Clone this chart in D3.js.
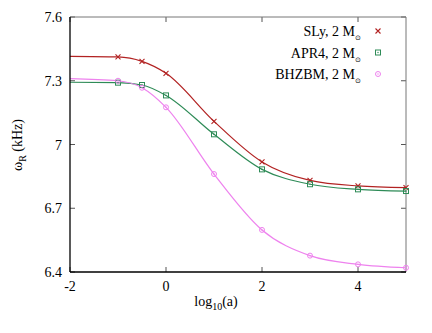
<!DOCTYPE html>
<html><head><meta charset="utf-8">
<script src="https://cdn.jsdelivr.net/npm/d3@7"></script>
<style>body{margin:0;background:#fff}svg{display:block}</style>
</head><body><svg id="c" width="432" height="333"></svg>
<script>
const xPoints = [-1, -0.5, 0, 1, 2, 3, 4, 5];
const slyValues = [7.412, 7.391, 7.335, 7.109, 6.918, 6.831, 6.805, 6.797];
const apr4Values = [7.291, 7.280, 7.231, 7.048, 6.883, 6.813, 6.789, 6.781];
const bhzbmValues = [7.300, 7.267, 7.175, 6.861, 6.598, 6.477, 6.436, 6.420];
// fitted curve value at left edge (x = -2)
const curveStartX = -2;
const slyStart = 7.415, apr4Start = 7.293, bhzbmStart = 7.310;
const xTicks = [-2, 0, 2, 4];
const yTicks = [6.4, 6.7, 7.0, 7.3, 7.6];
const yTickLabels = ["6.4", "6.7", "7", "7.3", "7.6"];
const seriesNames = ["SLy", "APR4", "BHZBM"];
const colors = ["#b22222", "#2e8b57", "#ee82ee"];

const svg = d3.select("#c");
const L = 70, R = 406, T = 17, B = 272;
const x = d3.scaleLinear().domain([-2, 5]).range([L, R]);
const y = d3.scaleLinear().domain([6.4, 7.6]).range([B, T]);

function txt(sel, size) {
  return sel.append("text").attr("style", `font-family:'Liberation Serif';font-size:${size}px`);
}
function sub(t, s, dy, size) {
  t.append("tspan").attr("style", `font-size:${size}px`).attr("dy", dy).text(s);
}

const tl = 5;
const g = svg.append("g");
xTicks.forEach(v => {
  g.append("line").attr("x1", x(v)).attr("x2", x(v)).attr("y1", B).attr("y2", B - tl).attr("stroke", "#555");
  g.append("line").attr("x1", x(v)).attr("x2", x(v)).attr("y1", T).attr("y2", T + tl).attr("stroke", "#555");
  txt(g, 14).attr("x", x(v)).attr("y", B + 19).attr("text-anchor", "middle").text(v);
});
yTicks.forEach((v, i) => {
  g.append("line").attr("x1", L).attr("x2", L + tl).attr("y1", y(v)).attr("y2", y(v)).attr("stroke", "#555");
  g.append("line").attr("x1", R).attr("x2", R - tl).attr("y1", y(v)).attr("y2", y(v)).attr("stroke", "#555");
  txt(g, 14).attr("x", L - 8).attr("y", y(v) + 5).attr("text-anchor", "end").text(yTickLabels[i]);
});

svg.append("line").attr("x1", L).attr("x2", R).attr("y1", T).attr("y2", T).attr("stroke", "#777").attr("stroke-width", 1);
svg.append("line").attr("x1", R).attr("x2", R).attr("y1", T).attr("y2", B).attr("stroke", "#777").attr("stroke-width", 1);

const allValues = [slyValues, apr4Values, bhzbmValues];
const starts = [slyStart, apr4Start, bhzbmStart];
const line = d3.line().x(d => x(d[0])).y(d => y(d[1])).curve(d3.curveMonotoneX);

allValues.forEach((vals, si) => {
  const pts = [[curveStartX, starts[si]]].concat(xPoints.map((xv, i) => [xv, vals[i]]));
  svg.append("path").attr("d", line(pts)).attr("fill", "none").attr("stroke", colors[si]).attr("stroke-width", 1.2);
});

function marker(sel, si, cx, cy) {
  const c = colors[si], s = 2.5;
  if (si === 0) {
    sel.append("path").attr("d", `M${cx-s},${cy-s}L${cx+s},${cy+s}M${cx-s},${cy+s}L${cx+s},${cy-s}`).attr("stroke", c).attr("stroke-width", 1.1);
  } else if (si === 1) {
    sel.append("rect").attr("x", cx - s).attr("y", cy - s).attr("width", 2*s).attr("height", 2*s).attr("fill", "none").attr("stroke", c).attr("stroke-width", 1);
    sel.append("rect").attr("x", cx - 0.6).attr("y", cy - 0.6).attr("width", 1.2).attr("height", 1.2).attr("fill", c);
  } else {
    sel.append("circle").attr("cx", cx).attr("cy", cy).attr("r", s).attr("fill", "none").attr("stroke", c).attr("stroke-width", 1);
    sel.append("circle").attr("cx", cx).attr("cy", cy).attr("r", 0.7).attr("fill", c);
  }
}
allValues.forEach((vals, si) => {
  xPoints.forEach((xv, i) => marker(svg, si, x(xv), y(vals[i])));
});

svg.append("line").attr("x1", L).attr("x2", L).attr("y1", T).attr("y2", B).attr("stroke", "#000").attr("stroke-width", 1.3);
svg.append("line").attr("x1", L).attr("x2", R).attr("y1", B).attr("y2", B).attr("stroke", "#000").attr("stroke-width", 1.3);

seriesNames.forEach((n, i) => {
  const ly = 31 + i * 21.5;
  const t = txt(svg, 14).attr("x", 361).attr("y", ly + 5).attr("text-anchor", "end");
  t.append("tspan").text(n + ", 2 M");
  sub(t, "\u2299", 4, 7);
  marker(svg, i, 378, ly);
});

const yl = txt(svg, 14).attr("transform", "translate(22,145) rotate(-90)").attr("text-anchor", "middle");
yl.append("tspan").text("\u03c9");
sub(yl, "R", 4, 10);
yl.append("tspan").attr("dy", -4).text(" (kHz)");
const xl = txt(svg, 14).attr("x", 216).attr("y", 306).attr("text-anchor", "middle");
xl.append("tspan").text("log");
sub(xl, "10", 4, 10);
xl.append("tspan").attr("dy", -4).text("(a)");
</script></body></html>
